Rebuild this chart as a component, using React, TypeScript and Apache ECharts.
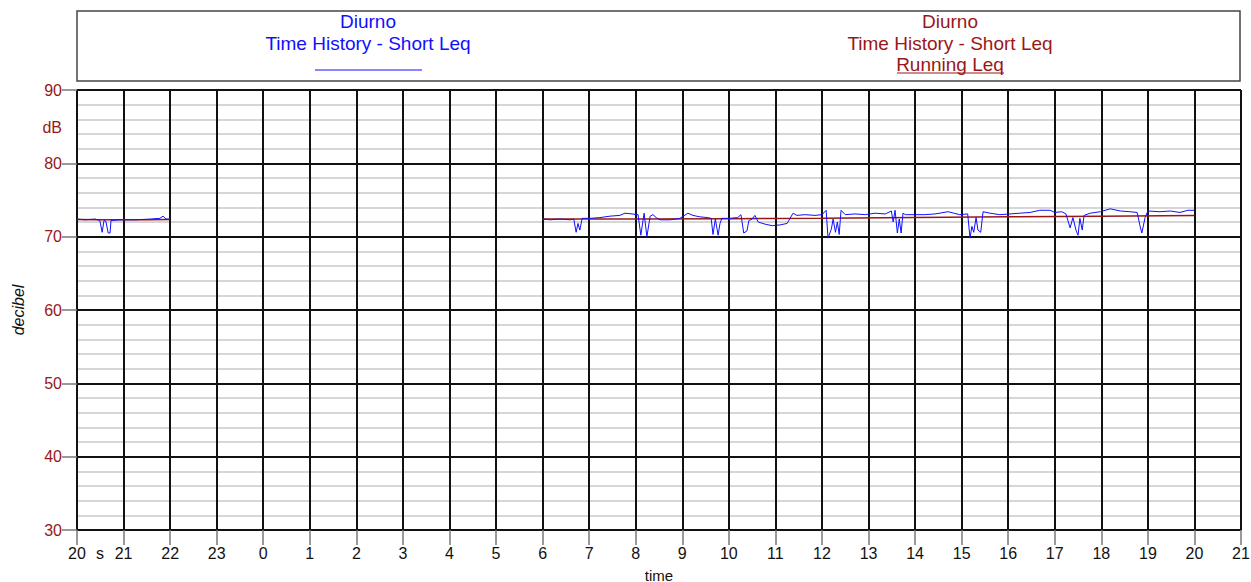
import React, { useEffect, useRef } from "react";
import * as echarts from "echarts";

// Clock times (decimal hours) and levels in dB
const eveningTimes = [20.0, 20.17, 20.39, 20.49, 20.54, 20.58, 20.62, 20.67, 20.71, 20.73, 20.92, 21.25, 21.57, 21.78, 21.85, 21.91, 22.0];
const eveningLeq = [72.4, 72.3, 72.4, 72.2, 70.6, 72.2, 72.1, 70.5, 70.5, 72.2, 72.3, 72.3, 72.4, 72.5, 72.8, 72.4, 72.4];

const dayTimes = [
  6.0, 6.16, 6.37, 6.59, 6.67, 6.72, 6.76, 6.8, 6.85, 7.02, 7.23, 7.45, 7.66, 7.77, 7.92, 8.05, 8.11, 8.18, 8.24, 8.31,
  8.37, 8.44, 8.52, 8.74, 8.95, 9.12, 9.23, 9.38, 9.55, 9.62, 9.66, 9.71, 9.77, 9.81, 9.85, 10.02, 10.19, 10.26, 10.32, 10.39,
  10.43, 10.5, 10.56, 10.63, 10.78, 10.93, 11.1, 11.25, 11.38, 11.46, 11.64, 11.85, 12.0, 12.09, 12.13, 12.2, 12.24, 12.29, 12.33, 12.37,
  12.41, 12.5, 12.71, 12.93, 13.14, 13.36, 13.49, 13.53, 13.57, 13.62, 13.66, 13.7, 13.74, 13.79, 14.0, 14.21, 14.43, 14.71, 14.96, 15.13,
  15.18, 15.22, 15.26, 15.31, 15.35, 15.41, 15.46, 15.61, 15.82, 16.04, 16.25, 16.47, 16.68, 16.9, 17.0, 17.15, 17.24, 17.33, 17.39, 17.46,
  17.5, 17.54, 17.59, 17.63, 17.76, 17.98, 18.19, 18.41, 18.62, 18.77, 18.83, 18.87, 18.94, 19.0, 19.26, 19.48, 19.69, 19.86, 19.99,
];
const dayLeq = [
  72.4, 72.3, 72.4, 72.3, 72.4, 70.6, 71.8, 70.9, 72.5, 72.5, 72.6, 72.8, 72.9, 73.2, 73.1, 73.0, 70.2, 73.2, 70.0, 72.8,
  73.0, 72.6, 72.3, 72.3, 72.5, 73.2, 72.9, 72.7, 72.6, 72.5, 70.3, 72.4, 70.2, 71.8, 72.5, 72.5, 72.6, 73.0, 70.5, 70.8,
  72.2, 72.4, 72.9, 72.0, 71.7, 71.5, 71.6, 71.8, 73.2, 72.9, 73.0, 72.9, 73.0, 73.6, 69.8, 71.0, 72.4, 70.6, 72.0, 70.3,
  73.6, 73.0, 73.1, 73.0, 73.2, 73.1, 73.5, 72.0, 73.6, 70.5, 72.4, 70.5, 73.2, 73.0, 73.0, 73.0, 73.1, 73.4, 73.0, 73.1,
  69.8, 71.4, 70.6, 72.6, 70.9, 70.6, 73.4, 73.2, 73.0, 73.1, 73.2, 73.3, 73.6, 73.6, 73.3, 73.4, 73.1, 71.2, 72.6, 70.8,
  70.2, 72.5, 70.9, 72.9, 73.2, 73.4, 73.8, 73.5, 73.4, 73.3, 71.5, 70.5, 72.6, 73.5, 73.4, 73.5, 73.3, 73.6, 73.6,
];

const runEveningTimes = [20.0, 20.5, 21.0, 21.5, 22.0];
const runEveningLeq = [72.35, 72.3, 72.3, 72.3, 72.35];
const runDayTimes = [6.0, 8.0, 10.0, 12.0, 14.0, 16.0, 18.0, 20.0];
const runDayLeq = [72.4, 72.4, 72.45, 72.5, 72.6, 72.7, 72.8, 72.9];

const hourTicks = [20, 21, 22, 23, 0, 1, 2, 3, 4, 5, 6, 7, 8, 9, 10, 11, 12, 13, 14, 15, 16, 17, 18, 19, 20, 21];
const dbTicks = [30, 40, 50, 60, 70, 80, 90];

const BLUE = "#1010ff";
const RED = "#981818";
const FONT = "'Liberation Sans', Arial, sans-serif";

// hours elapsed since 20:00 of the first evening
const toOffset = (t: number, nextDay: boolean) => (nextDay ? t + 4 : t - 20);
const pairs = (ts: number[], vs: number[], nextDay: boolean) => ts.map((t, i) => [toOffset(t, nextDay), vs[i]]);

export default function App() {
  const ref = useRef<HTMLDivElement>(null);
  useEffect(() => {
    if (!ref.current) return;
    const chart = echarts.init(ref.current, undefined, { renderer: "svg" });
    const left = 77;
    const right = 1241;
    const legendText = (text: string, x: number, y: number, fill: string) => ({
      type: "text",
      x,
      y,
      style: { text, fill, fontSize: 19, fontFamily: FONT, textAlign: "center", textVerticalAlign: "middle" },
    });
    chart.setOption({
      animation: false,
      backgroundColor: "#ffffff",
      textStyle: { fontFamily: FONT },
      grid: { left: left, right: 1251 - right, top: 90, bottom: 52, containLabel: false, outerBoundsMode: "none" },
      xAxis: {
        type: "value",
        min: 0,
        max: hourTicks.length - 1,
        interval: 1,
        name: "time",
        nameLocation: "middle",
        nameGap: 38,
        nameTextStyle: { color: "#111", fontSize: 15, lineHeight: 14, fontFamily: FONT },
        axisLine: { show: false },
        axisTick: { show: true, length: 15, lineStyle: { color: "#777", width: 1.5 } },
        axisLabel: {
          color: "#111",
          fontSize: 16,
          fontFamily: FONT,
          margin: 15,
          formatter: (v: number) => String(hourTicks[Math.round(v)] ?? ""),
        },
        splitLine: { show: true, lineStyle: { color: "#111", width: 2 } },
      },
      yAxis: {
        type: "value",
        min: dbTicks[0],
        max: dbTicks[dbTicks.length - 1],
        interval: 10,
        name: "decibel",
        nameLocation: "middle",
        nameGap: 51,
        nameTextStyle: { color: "#111", fontSize: 16, fontStyle: "italic", fontFamily: FONT },
        axisLine: { show: false },
        axisTick: { show: true, length: 15, lineStyle: { color: "#777", width: 1.5 } },
        axisLabel: { color: RED, fontSize: 16, fontFamily: FONT, margin: 15 },
        splitLine: { show: true, lineStyle: { color: "#111", width: 2 } },
        minorTick: { show: false, splitNumber: 5 },
        minorSplitLine: { show: true, lineStyle: { color: "#c8c8c8", width: 1.5 } },
      },
      graphic: [
        {
          type: "rect",
          shape: { x: 77, y: 11, width: 1163, height: 70 },
          style: { fill: "none", stroke: "#444", lineWidth: 1.5 },
          silent: true,
        },
        legendText("Diurno", 368, 21, BLUE),
        legendText("Time History - Short Leq", 368, 43, BLUE),
        { type: "line", shape: { x1: 315, y1: 70, x2: 422, y2: 70 }, style: { stroke: BLUE, lineWidth: 1.2 } },
        legendText("Diurno", 950, 21, RED),
        legendText("Time History - Short Leq", 950, 43, RED),
        legendText("Running Leq", 950, 64, RED),
        { type: "line", shape: { x1: 897, y1: 73, x2: 1004, y2: 73 }, style: { stroke: RED, lineWidth: 1.2 } },
        { type: "text", x: 62, y: 127, style: { text: "dB", fill: RED, fontSize: 16, fontFamily: FONT, textAlign: "right", textVerticalAlign: "middle" } },
        { type: "text", x: 100, y: 553, style: { text: "s", fill: "#111", fontSize: 16, fontFamily: FONT, textAlign: "center", textVerticalAlign: "middle" } },
      ],
      series: [
        {
          type: "line",
          data: pairs(runEveningTimes, runEveningLeq, false),
          showSymbol: false,
          lineStyle: { color: RED, width: 1.5 },
          z: 2,
        },
        {
          type: "line",
          data: pairs(runDayTimes, runDayLeq, true),
          showSymbol: false,
          lineStyle: { color: RED, width: 1.5 },
          z: 2,
        },
        {
          type: "line",
          data: pairs(eveningTimes, eveningLeq, false),
          showSymbol: false,
          lineStyle: { color: BLUE, width: 1 },
          z: 3,
        },
        {
          type: "line",
          data: pairs(dayTimes, dayLeq, true),
          showSymbol: false,
          lineStyle: { color: BLUE, width: 1 },
          z: 3,
        },
      ],
    });
    return () => chart.dispose();
  }, []);
  return <div ref={ref} style={{ position: "absolute", left: 0, top: 0, width: 1251, height: 582 }} />;
}
